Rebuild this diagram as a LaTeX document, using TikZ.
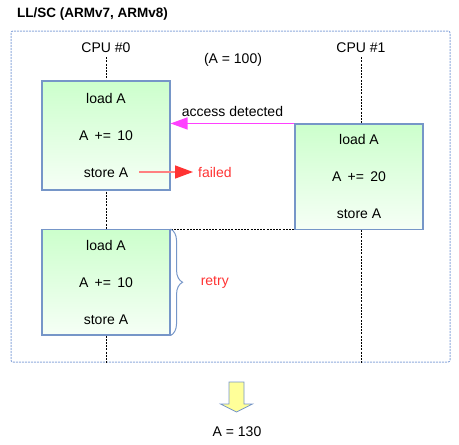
\documentclass[tikz,border=0pt]{standalone}
\usepackage{fontspec}
\setmainfont{Liberation Sans}
\usetikzlibrary{arrows.meta,positioning,decorations.pathreplacing}
\definecolor{boxline}{RGB}{118,150,200}
\definecolor{boxtop}{RGB}{204,255,204}
\definecolor{boxbot}{RGB}{246,255,246}
\definecolor{framecol}{RGB}{143,170,220}
\definecolor{accesscol}{RGB}{255,64,255}
\definecolor{failcol}{RGB}{255,51,51}
\definecolor{failline}{RGB}{255,128,128}
\definecolor{resultcol}{RGB}{255,255,153}
\tikzset{
    txt/.style = {
        font=\fontsize{14}{16}\selectfont,
        inner sep=0pt,
        },
    cpu box/.style = {
        draw = boxline,
        line width = 1.1pt,
        top color = boxtop,
        bottom color = boxbot,
        minimum width = 128pt,
        minimum height = 105.5pt,
        align = center,
        inner sep = 0pt,
        font = \fontsize{14}{37}\selectfont,
        },
    frame box/.style = {
        draw = framecol,
        line width = 1pt,
        dash pattern = on 2pt off 1pt,
        rounded corners = 2pt,
        },
    lifeline/.style = {
        line width = 0.9pt,
        dash pattern = on 2pt off 1.2pt,
        },
    access arrow/.style = {
        draw = accesscol,
        line width = 1.4pt,
        -{Triangle[length=17pt,width=12pt]},
        },
    fail arrow/.style = {
        draw = failline,
        line width = 1.4pt,
        -{Triangle[length=18pt,width=13pt,color=failcol]},
        },
    red label/.style = {
        txt,
        text = failcol,
        },
}
\begin{document}
\begin{tikzpicture}[x=1pt,y=-1pt]
    \useasboundingbox (0,0) rectangle (459,445);

    \node[txt, font=\bfseries\fontsize{13.5}{16}\selectfont, anchor=west] (title) at (17,14) {LL/SC (ARMv7, ARMv8)};
    \node[frame box, minimum width=439pt, minimum height=331pt] (frame) at (230.5,196.5) {};

    \node[txt] (cpu0) at (106,48) {CPU \#0};
    \node[txt] (cpu1) at (361,48) {CPU \#1};
    \node[txt] (init) at (233,60) {(A = 100)};

    % lifelines behind the boxes
    \draw[lifeline] ([yshift=-4pt]cpu0.south) -- (cpu0 |- frame.south);
    \draw[lifeline] ([yshift=-4pt]cpu1.south) -- (cpu1 |- frame.south);

    \node[cpu box, minimum height=109pt] (try) at (106,135.5) {load A\\A \,+=\, 10\\store A};
    \node[cpu box] (other) at (359,176.75) {load A\\A \,+=\, 20\\store A};
    \node[cpu box] (retry box) at (106,282.25) {load A\\A \,+=\, 10\\store A};

    \draw[lifeline] (retry box.north east) -- (retry box.north east -| other.west);

    \draw[access arrow] (other.north west) -- (other.north west -| try.east)
        node[txt, midway, above=6pt] (detected) {access detected};

    \coordinate (fail start) at (139,172);
    \coordinate (fail end) at (193,172);
    \draw[fail arrow] (fail start) -- (fail end);
    \node[red label, right=5pt of fail end] (failed) {failed};

    \draw[boxline, line width=1pt, decorate, decoration={brace, amplitude=12pt}]
        (retry box.north east) -- (retry box.south east);
    \node[red label, anchor=west] (retry) at ([xshift=30pt]retry box.east) {retry};

    % result
    \coordinate (down) at (236.5,382);
    \draw[boxline, line width=0.8pt, fill=resultcol]
        (down) ++(-7.5,0) -- ++(15,0) -- ++(0,22) -- ++(8.5,0) -- ++(-16,8)
        -- ++(-16,-8) -- ++(8.5,0) -- cycle;
    \node[txt] (result) at (237,432) {A = 130};
\end{tikzpicture}
\end{document}
